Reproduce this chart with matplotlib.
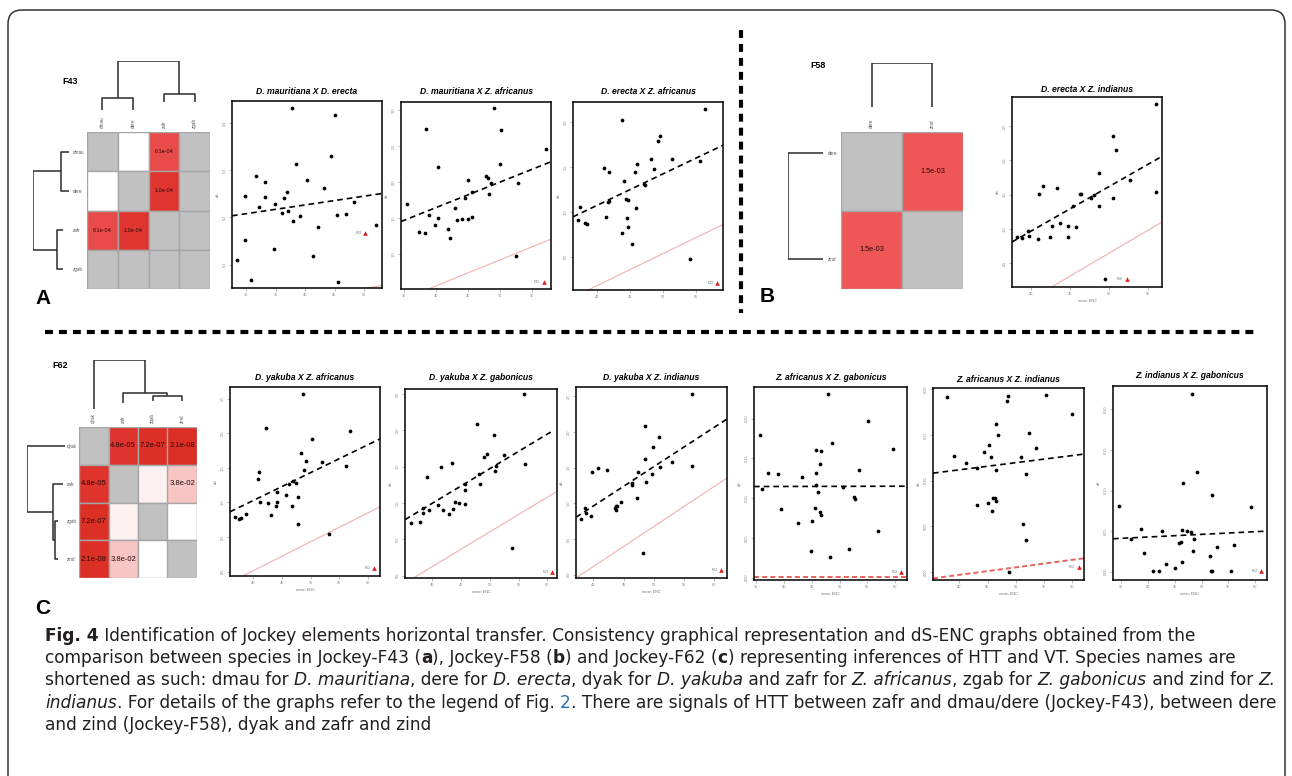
import numpy as np
import matplotlib
matplotlib.use("Agg")
import matplotlib.pyplot as plt
from matplotlib.colors import LinearSegmentedColormap
from matplotlib.patches import FancyBboxPatch, Rectangle
from matplotlib.font_manager import FontProperties, findfont

nan = np.nan

# ======================= DATA =======================
f43_species = ["dmau", "dere", "zafr", "zgab"]
f43_pvals = [[nan, 1.0, 6.1e-4, nan],
             [1.0, nan, 1.0e-4, nan],
             [6.1e-4, 1.0e-4, nan, nan],
             [nan, nan, nan, nan]]
f58_species = ["dere", "zind"]
f58_pvals = [[nan, 1.5e-3],
             [1.5e-3, nan]]
f62_species = ["dyak", "zafr", "zgab", "zind"]
f62_pvals = [[nan, 4.8e-5, 7.2e-7, 2.1e-8],
             [4.8e-5, nan, 0.45, 3.8e-2],
             [7.2e-7, 0.45, nan, 1.0],
             [2.1e-8, 3.8e-2, 1.0, nan]]

# dendrogram links: (left leaf pos, right leaf pos, left height, right height, merge height)
f43_col_links = [(0, 1, 0.0, 0.0, 0.245), (2, 3, 0.163, 0.163, 0.327), (0.5, 2.5, 0.245, 0.327, 1.0)]
f43_row_links = [(0, 1, 0.0, 0.0, 0.222), (2, 3, 0.167, 0.167, 0.333), (0.5, 2.5, 0.222, 0.333, 1.0)]
f58_col_links = [(0, 1, 0.0, 0.0, 1.0)]
f58_row_links = [(0, 1, 0.0, 0.0, 1.0)]
f62_col_links = [(2, 3, 0.163, 0.163, 0.265), (1, 2.5, 0.122, 0.265, 0.327), (0, 1.75, 0.0, 0.327, 1.0)]
f62_row_links = [(2, 3, 0.184, 0.184, 0.263), (1, 2.5, 0.053, 0.263, 0.316), (0, 1.75, 0.0, 0.316, 1.0)]

# scatter data (mean ENC, dS)
a1_enc = [37.78, 45.06, 44.38, 38.41, 31.70, 33.13, 40.34, 43.24, 36.99, 29.83, 33.24, 36.48, 34.89, 32.16, 48.24,
          36.02, 37.05, 39.09, 45.34, 46.93, 37.95, 42.22, 52.05, 29.83, 34.77, 41.31, 28.47, 30.74, 45.57]
a1_ds = [0.432, 0.416, 0.330, 0.314, 0.287, 0.275, 0.279, 0.263, 0.254, 0.246, 0.244, 0.242, 0.228, 0.222, 0.232,
         0.209, 0.213, 0.203, 0.205, 0.208, 0.192, 0.180, 0.183, 0.152, 0.134, 0.118, 0.111, 0.068, 0.063]
a2_enc = [48.98, 38.35, 50.13, 57.25, 40.24, 50.03, 44.90, 47.72, 48.14, 48.61, 52.80, 45.63, 48.19, 35.37, 43.01,
          44.58, 38.87, 40.24, 39.87, 43.32, 44.01, 45.05, 45.58, 37.36, 38.30, 41.91, 42.17, 52.49]
a2_ds = [3.032, 2.746, 2.732, 2.464, 2.210, 2.247, 2.030, 2.081, 2.062, 1.988, 1.993, 1.864, 1.831, 1.693, 1.647,
         1.781, 1.545, 1.508, 1.406, 1.476, 1.485, 1.485, 1.513, 1.309, 1.300, 1.356, 1.226, 0.968]
a3_enc = [56.26, 43.69, 49.55, 49.14, 48.18, 51.36, 46.01, 40.96, 41.77, 45.66, 48.59, 55.61, 43.99, 47.07, 47.27,
          37.42, 41.62, 41.72, 44.39, 44.70, 45.91, 41.36, 44.55, 37.12, 38.18, 38.38, 44.60, 43.74, 45.25, 54.09]
a3_ds = [2.148, 2.026, 1.841, 1.789, 1.593, 1.593, 1.537, 1.493, 1.444, 1.444, 1.481, 1.567, 1.344, 1.315, 1.296,
         1.056, 1.111, 1.122, 1.141, 1.130, 1.037, 0.944, 0.930, 0.907, 0.878, 0.859, 0.826, 0.767, 0.641, 0.474]
b1_enc = [56.01, 50.43, 50.86, 48.71, 41.46, 43.30, 40.99, 46.22, 46.35, 52.62, 56.01, 48.07, 47.64, 50.43, 45.36,
          48.71, 43.65, 42.70, 44.68, 45.67, 39.61, 39.66, 38.20, 38.76, 42.40, 40.90, 44.68, 49.44]
b1_ds = [2.816, 2.354, 2.145, 1.814, 1.629, 1.595, 1.502, 1.512, 1.502, 1.707, 1.532, 1.488, 1.454, 1.444, 1.327,
         1.337, 1.089, 1.045, 1.045, 1.030, 0.972, 0.899, 0.875, 0.870, 0.875, 0.850, 0.875, 0.262]
c1_enc = [48.66, 42.21, 56.80, 50.29, 48.26, 49.24, 51.98, 56.22, 40.99, 48.90, 40.81, 46.98, 46.28, 47.50, 44.07,
          45.64, 47.85, 41.16, 42.56, 44.19, 43.95, 46.74, 38.72, 43.02, 36.86, 37.56, 37.91, 47.79, 53.20]
c1_ds = [2.572, 2.082, 2.029, 1.923, 1.712, 1.606, 1.591, 1.524, 1.442, 1.462, 1.332, 1.313, 1.260, 1.274, 1.154,
         1.106, 1.072, 1.005, 0.990, 1.005, 0.947, 0.942, 0.837, 0.813, 0.793, 0.755, 0.774, 0.688, 0.548]
c2_enc = [55.87, 47.73, 50.64, 49.48, 48.90, 52.50, 51.05, 43.37, 41.57, 50.93, 48.08, 39.01, 48.31, 45.76, 45.70,
          43.90, 44.59, 45.64, 41.05, 38.31, 39.36, 41.92, 43.55, 38.31, 42.97, 36.22, 37.91, 56.05, 53.84]
c2_ds = [2.500, 2.087, 1.936, 1.679, 1.633, 1.665, 1.514, 1.555, 1.491, 1.440, 1.394, 1.362, 1.261, 1.266, 1.174,
         1.014, 1.000, 0.986, 0.972, 0.927, 0.904, 0.904, 0.913, 0.867, 0.853, 0.729, 0.734, 1.541, 0.376]
c3_enc = [56.35, 48.56, 50.83, 49.94, 48.56, 40.83, 42.21, 39.72, 47.35, 52.98, 50.94, 56.35, 49.67, 46.35, 46.41,
          48.78, 44.64, 47.29, 43.76, 43.54, 43.87, 43.70, 38.78, 39.61, 38.01, 38.67, 48.29]
c3_ds = [2.528, 2.089, 1.930, 1.785, 1.621, 1.491, 1.467, 1.435, 1.435, 1.575, 1.514, 1.519, 1.416, 1.285, 1.257,
         1.299, 1.019, 1.075, 0.967, 0.935, 0.963, 0.902, 0.869, 0.818, 0.776, 0.935, 0.304]
c4_enc = [47.92, 55.07, 35.60, 48.64, 45.82, 46.72, 59.70, 46.42, 53.51, 37.04, 38.91, 45.82, 43.23, 45.70, 35.96,
          50.63, 46.12, 52.67, 52.85, 39.39, 45.58, 46.48, 46.66, 42.45, 45.04, 56.87, 44.80, 51.65, 48.34]
c4_ds = [0.2310, 0.1967, 0.1795, 0.1695, 0.1603, 0.1590, 0.1615, 0.1423, 0.1351, 0.1322, 0.1301, 0.1310, 0.1264,
         0.1159, 0.1109, 0.1138, 0.1079, 0.1017, 0.0992, 0.0858, 0.0870, 0.0824, 0.0791, 0.0690, 0.0711, 0.0582,
         0.0331, 0.0356, 0.0255]
c5_enc = [37.77, 48.62, 48.39, 55.31, 59.94, 46.45, 46.80, 52.38, 45.34, 44.46, 45.69, 53.49, 39.00, 41.23, 43.11,
          46.45, 50.91, 51.85, 45.98, 46.28, 46.45, 43.17, 45.16, 45.87, 51.20, 51.73, 48.86]
c5_ds = [0.1913, 0.1920, 0.1872, 0.1931, 0.1727, 0.1617, 0.1501, 0.1519, 0.1392, 0.1308, 0.1257, 0.1352, 0.1271,
         0.1195, 0.1133, 0.1118, 0.1253, 0.1071, 0.0809, 0.0809, 0.0780, 0.0736, 0.0754, 0.0674, 0.0528, 0.0357,
         0.0000]
c6_enc = [48.19, 49.19, 46.50, 52.00, 34.56, 59.19, 38.75, 42.56, 46.25, 47.19, 47.94, 48.56, 36.75, 45.69, 46.13,
          52.94, 55.94, 48.31, 39.19, 51.56, 43.31, 46.38, 45.06, 41.00, 41.94, 51.75, 51.88, 55.50]
c6_ds = [0.2193, 0.1225, 0.1090, 0.0943, 0.0807, 0.0799, 0.0520, 0.0496, 0.0508, 0.0496, 0.0492, 0.0402, 0.0402,
         0.0348, 0.0361, 0.0307, 0.0324, 0.0258, 0.0234, 0.0193, 0.0090, 0.0119, 0.0041, 0.0004, 0.0004, 0.0004,
         0.0004, 0.0004]

# regression lines (enc pair, dS pair)
a1_reg = ([27.56, 53.07], [0.2035, 0.2507])
a2_reg = ([34.48, 57.98], [1.453, 2.284])
a3_reg = ([36.31, 59.04], [0.944, 1.741])
b1_reg = ([37.51, 56.74], [0.807, 2.057])
c1_reg = ([35.93, 62.09], [0.865, 1.918])
c2_reg = ([35.23, 61.10], [0.771, 2.000])
c3_reg = ([37.13, 62.10], [0.804, 2.182])
c4_reg = ([34.58, 62.16], [0.1146, 0.1150])
c5_reg = ([35.37, 62.05], [0.1082, 0.1290])
c6_reg = ([33.44, 62.19], [0.0406, 0.0500])

# expected (red) lines
a1_red = ([50.45, 53.07], [0.0507, 0.056])
a2_red = ([38.77, 57.98], [0.515, 1.208])
a3_red = ([38.59, 59.04], [0.130, 0.859])
b1_red = ([42.58, 56.74], [0.150, 1.099])
c1_red = ([38.14, 62.09], [-0.0625, 0.9375])
c2_red = ([36.69, 61.69], [-0.032, 1.161])
c3_red = ([37.13, 62.10], [-0.047, 1.355])
c4_red = ([34.58, 62.16], [0.0008, 0.0008])
c5_red = ([35.37, 62.05], [-0.0066, 0.0153])
c6_red = None

# family marker (enc, dS)
a1_fam = (50.17, 0.168)
a2_fam = (56.83, 0.617)
a3_fam = (58.18, 0.207)
b1_fam = (52.23, 0.271)
c1_fam = (61.05, 0.048)
c2_fam = (60.81, 0.055)
c3_fam = (61.16, 0.061)
c4_fam = (61.08, 0.0075)
c5_fam = (61.11, 0.0062)
c6_fam = (61.06, 0.0004)

caption_lines = [
    [("Fig. 4", "b"), (" Identification of Jockey elements horizontal transfer. Consistency graphical representation and dS-ENC graphs obtained from the", "n")],
    [("comparison between species in Jockey-F43 (", "n"), ("a", "b"), ("), Jockey-F58 (", "n"), ("b", "b"),
     (") and Jockey-F62 (", "n"), ("c", "b"), (") representing inferences of HTT and VT. Species names are", "n")],
    [("shortened as such: dmau for ", "n"), ("D. mauritiana", "i"), (", dere for ", "n"), ("D. erecta", "i"),
     (", dyak for ", "n"), ("D. yakuba", "i"), (" and zafr for ", "n"), ("Z. africanus", "i"), (", zgab for ", "n"),
     ("Z. gabonicus", "i"), (" and zind for ", "n"), ("Z.", "i")],
    [("indianus", "i"), (". For details of the graphs refer to the legend of Fig. ", "n"), ("2", "l"),
     (". There are signals of HTT between zafr and dmau/dere (Jockey-F43), between dere", "n")],
    [("and zind (Jockey-F58), dyak and zafr and zind", "n")],
]
# right end (pixels) of each caption line in the reference
caption_line_ends = [1248, 1226, 1283, 1226, 450]

# ======================= LAYOUT / STYLE =======================
W, H = 1292, 776
fig = plt.figure(figsize=(W / 100, H / 100), dpi=100)
fig.patch.set_facecolor("white")
SANS = "Liberation Sans"
plt.rcParams["font.family"] = [SANS, "DejaVu Sans"]


def px(l, t, r, b):
    return [l / W, 1 - b / H, (r - l) / W, (b - t) / H]


ax0 = fig.add_axes([0, 0, 1, 1])
ax0.set_xlim(0, W)
ax0.set_ylim(H, 0)
ax0.axis("off")

# border
ax0.add_patch(FancyBboxPatch((8, 10), 1277, 800, boxstyle="round,pad=0,rounding_size=14",
                             fill=False, ec="#333333", lw=1.1))
# separators
ax0.plot([741, 741], [30, 313], color="black", lw=3, dashes=(1.9, 1.45), solid_capstyle="butt")
ax0.plot([45, 1255], [332, 332], color="black", lw=3, dashes=(1.9, 1.45), solid_capstyle="butt")

# panel letters / family labels
for txt, x, y in [("A", 43, 298), ("B", 767, 297), ("C", 43, 609)]:
    ax0.text(x, y, txt, fontsize=15, fontweight="bold", ha="center", va="center")
for txt, x, y in [("F43", 70, 81), ("F58", 818, 65), ("F62", 60, 366)]:
    ax0.text(x, y, txt, fontsize=6.5, fontweight="bold", ha="center", va="center")

# colormap for significance
sig_s = [0, 0.4, 1.4, 2.8, 3.2, 4.0, 6.0]
sig_c = ["#ffffff", "#fdeeee", "#f8c6c6", "#ef5757", "#e94b4b", "#e0352f", "#dc2f25"]
cmap = LinearSegmentedColormap.from_list("sig", [(s / 6.0, c) for s, c in zip(sig_s, sig_c)])
GRAY = "#c0c1c0"
EDGE = "#a6a6a6"


def heatmap(rect, species, pvals, fs):
    ax = fig.add_axes(px(*rect))
    P = np.array(pvals, float)
    n = len(species)
    for i in range(n):
        for j in range(n):
            p = P[i, j]
            col = GRAY if np.isnan(p) else cmap(min(-np.log10(p), 6.0) / 6.0)
            ax.add_patch(Rectangle((j, i), 1, 1, facecolor=col, edgecolor=EDGE, lw=1.0))
            if not np.isnan(p) and p < 0.05:
                ax.text(j + 0.5, i + 0.5, f"{p:.1e}", ha="center", va="center", fontsize=fs, color="#2a0a0a")
    ax.set_xlim(0, n)
    ax.set_ylim(n, 0)
    ax.set_xticks(np.arange(n) + 0.5)
    ax.set_xticklabels(species, rotation=90, fontsize=3.3, color="#555555")
    ax.xaxis.tick_top()
    ax.tick_params(axis="x", length=0, pad=3)
    ax.set_yticks([])
    for s in ax.spines.values():
        s.set_visible(False)
    return ax


def dendro(rect, links, n, orient, labels=None, pad=2.5):
    ax = fig.add_axes(px(*rect))
    for (a, b, ha, hb, ht) in links:
        xs = [a + 0.5, a + 0.5, b + 0.5, b + 0.5]
        hs = [ha, ht, ht, hb]
        if orient == "top":
            ax.plot(xs, hs, color="#2b2b2b", lw=1.1, solid_capstyle="butt")
        else:
            ax.plot(hs, xs, color="#2b2b2b", lw=1.1, solid_capstyle="butt")
    if orient == "top":
        ax.set_xlim(0, n)
        ax.set_ylim(0, 1)
        ax.axis("off")
    else:
        ax.set_xlim(1, 0)
        ax.set_ylim(n, 0)
        for s in ax.spines.values():
            s.set_visible(False)
        ax.set_xticks([])
        ax.yaxis.tick_right()
        ax.set_yticks(np.arange(n) + 0.5)
        ax.set_yticklabels(labels, fontsize=3.3, color="#555555")
        ax.tick_params(axis="y", length=0, pad=pad)
        ax.patch.set_visible(False)
    return ax


# F43
heatmap((87, 132, 210, 289), f43_species, f43_pvals, 4.0)
dendro((87, 61, 210, 110), f43_col_links, 4, "top")
dendro((33, 132, 69, 289), f43_row_links, 4, "left", f43_species, pad=3)
# F58
heatmap((841, 132, 963, 289), f58_species, f58_pvals, 5.3)
dendro((841, 63, 963, 107), f58_col_links, 2, "top")
dendro((788, 100, 823, 312), f58_row_links, 2, "left", f58_species, pad=3.5)
# F62
heatmap((79, 427, 197, 578), f62_species, f62_pvals, 5.5)
dendro((79, 360, 197, 409), f62_col_links, 4, "top")
dendro((27, 427, 65, 578), f62_row_links, 4, "left", f62_species, pad=1.5)


def scatter(rect, title, title_y, enc, ds, reg, red, red_dashed, fam, fam_lab, xlim, ylim, xticks, yticks,
            yfmt, xlabel):
    l, t, r, b = rect
    ax = fig.add_axes(px(*rect))
    ax.plot(enc, ds, "o", ms=2.7, color="black", mec="black", mew=0, zorder=4)
    ax.plot(reg[0], reg[1], color="black", lw=1.2, dashes=(3.4, 2.4), zorder=3)
    if red is not None:
        if red_dashed:
            ax.plot(red[0], red[1], color="#e8463f", lw=1.4, alpha=0.85, dashes=(2.6, 1.6), zorder=2)
        else:
            ax.plot(red[0], red[1], color="#f2b0b0", lw=0.8, zorder=2)
    ax.plot([fam[0]], [fam[1]], "^", ms=3.3, color="#e01b1b", mew=0, zorder=5)
    ax.annotate(fam_lab, fam, xytext=(-2.5, 0), textcoords="offset points", ha="right", va="center",
                fontsize=2.6, color="#777777")
    ax.set_xlim(*xlim)
    ax.set_ylim(*ylim)
    ax.set_xticks(xticks)
    ax.set_xticklabels([str(v) for v in xticks])
    ax.set_yticks(yticks)
    ax.set_yticklabels([yfmt.format(v) for v in yticks], rotation=90, va="center")
    ax.tick_params(labelsize=2.8, colors="#888888", length=2, width=0.4, pad=1.5)
    for s in ax.spines.values():
        s.set_linewidth(1.1)
        s.set_color("black")
    ax0.text((l + r) / 2, title_y, title, fontsize=6.2, fontweight="bold", fontstyle="italic",
             ha="center", va="center")
    ax0.text(l - 14, (t + b) / 2, "dS", fontsize=2.8, color="#777777", rotation=90, ha="center", va="center")
    if xlabel:
        ax0.text((l + r) / 2, b + 14, "mean ENC", fontsize=2.8, color="#777777", ha="center", va="center")
    return ax


scatter((232, 101, 382, 288), "D. mauritiana X D. erecta", 91, a1_enc, a1_ds, a1_reg, a1_red, False, a1_fam, "F43",
        (27.56, 53.07), (0.0507, 0.4465), [30, 35, 40, 45, 50], [0.1, 0.2, 0.3, 0.4], "{:.1f}", False)
scatter((401, 102, 551, 289), "D. mauritiana X Z. africanus", 91, a2_enc, a2_ds, a2_reg, a2_red, False, a2_fam, "F43",
        (34.48, 57.98), (0.515, 3.115), [35, 40, 45, 50, 55], [1.0, 1.5, 2.0, 2.5, 3.0], "{:.1f}", False)
scatter((573, 102, 723, 290), "D. erecta X Z. africanus", 91, a3_enc, a3_ds, a3_reg, a3_red, False, a3_fam, "F43",
        (36.31, 59.04), (0.130, 2.222), [40, 45, 50, 55], [0.5, 1.0, 1.5, 2.0], "{:.1f}", False)
scatter((1012, 97, 1162, 287), "D. erecta X Z. indianus", 89, b1_enc, b1_ds, b1_reg, b1_red, False, b1_fam, "F58",
        (37.51, 56.74), (0.150, 2.923), [40, 45, 50, 55], [0.5, 1.0, 1.5, 2.0, 2.5], "{:.1f}", True)
scatter((230, 387, 380, 576), "D. yakuba X Z. africanus", 377, c1_enc, c1_ds, c1_reg, c1_red, False, c1_fam, "F62",
        (35.93, 62.09), (-0.0625, 2.668), [40, 45, 50, 55, 60], [0.0, 0.5, 1.0, 1.5, 2.0, 2.5], "{:.1f}", True)
scatter((405, 389, 557, 578), "D. yakuba X Z. gabonicus", 377, c2_enc, c2_ds, c2_reg, c2_red, False, c2_fam, "F62",
        (35.23, 61.69), (-0.032, 2.569), [40, 45, 50, 55, 60], [0.0, 0.5, 1.0, 1.5, 2.0, 2.5], "{:.1f}", True)
scatter((576, 387, 727, 578), "D. yakuba X Z. indianus", 377, c3_enc, c3_ds, c3_reg, c3_red, False, c3_fam, "F62",
        (37.13, 62.10), (-0.047, 2.631), [40, 45, 50, 55, 60], [0.0, 0.5, 1.0, 1.5, 2.0, 2.5], "{:.1f}", True)
scatter((754, 387, 907, 580), "Z. africanus X Z. gabonicus", 377, c4_enc, c4_ds, c4_reg, c4_red, True, c4_fam, "F62",
        (34.58, 62.16), (-0.0029, 0.2397), [35, 40, 45, 50, 55, 60], [0.0, 0.05, 0.1, 0.15, 0.2], "{:.2f}", True)
scatter((933, 388, 1084, 580), "Z. africanus X Z. indianus", 379, c5_enc, c5_ds, c5_reg, c5_red, True, c5_fam, "F62",
        (35.37, 62.05), (-0.0084, 0.2011), [40, 45, 50, 55, 60], [0.0, 0.05, 0.1, 0.15, 0.2], "{:.2f}", True)
scatter((1113, 386, 1267, 580), "Z. indianus X Z. gabonicus", 376, c6_enc, c6_ds, c6_reg, c6_red, False, c6_fam, "F62",
        (33.44, 62.19), (-0.0102, 0.2287), [35, 40, 45, 50, 55, 60], [0.0, 0.05, 0.1, 0.15, 0.2], "{:.2f}", True)

# ======================= CAPTION =======================
fig.canvas.draw()
renderer = fig.canvas.get_renderer()


def style_kw(st, size, fam):
    kw = dict(fontsize=size, family=[fam, "DejaVu Sans"], color="#231f20", va="baseline", ha="left")
    if st == "b":
        kw["fontweight"] = "bold"
    elif st == "i":
        kw["fontstyle"] = "italic"
    elif st == "l":
        kw["color"] = "#1f6fb2"
    return kw


def run_width(txt, kw):
    t1 = ax0.text(0, 0, txt + "|", **kw)
    w1 = t1.get_window_extent(renderer).width
    t1.remove()
    t2 = ax0.text(0, 0, "|", **kw)
    w2 = t2.get_window_extent(renderer).width
    t2.remove()
    return w1 - w2


def has_styles(fam):
    try:
        reg = findfont(FontProperties(family=fam), fallback_to_default=False)
        bold = findfont(FontProperties(family=fam, weight="bold"), fallback_to_default=False)
        ital = findfont(FontProperties(family=fam, style="italic"), fallback_to_default=False)
    except Exception:
        return False
    return reg != bold and reg != ital


# pick the installed sans family whose line widths best match the reference
candidates = ["Open Sans", "Lato", "Roboto", "Noto Sans", "Inter", "Liberation Sans", "DejaVu Sans"]
targets = np.array(caption_line_ends, float) - 45
best = None
base = 12.0
for fam in candidates:
    if not has_styles(fam):
        continue
    widths = np.array([sum(run_width(t, style_kw(s, base, fam)) for t, s in line) for line in caption_lines])
    scale = float(np.dot(widths, targets) / np.dot(widths, widths))
    err = float(np.sum((scale * widths - targets) ** 2))
    if best is None or err < best[0]:
        best = (err, fam, base * scale)
_, cap_font, cap_size = best

for k, line in enumerate(caption_lines):
    x = 45
    y = 641 + k * 22.2
    for txt, st in line:
        kw = style_kw(st, cap_size, cap_font)
        ax0.text(x, y, txt, **kw)
        x += run_width(txt, kw)

fig.savefig("out.png", dpi=100, facecolor="white")
